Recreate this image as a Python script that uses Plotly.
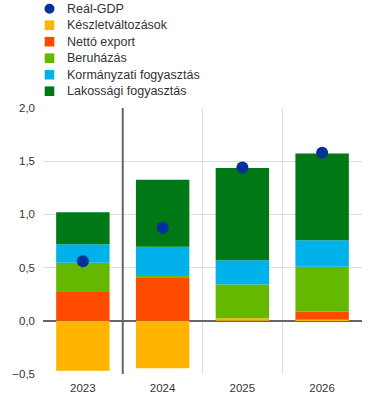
import plotly.graph_objects as go

years = ["2023", "2024", "2025", "2026"]
keszlet = [-0.47, -0.445, 0.025, 0.012]
netto_export = [0.27, 0.41, 0.0, 0.075]
beruhazas = [0.275, 0.02, 0.315, 0.42]
kormanyzati = [0.175, 0.265, 0.23, 0.25]
lakossagi = [0.30, 0.63, 0.865, 0.815]
real_gdp = [0.56, 0.875, 1.44, 1.58]

gdp_name = "Reál-GDP"
gdp_color = "#003299"
series = [
    ("Készletváltozások", keszlet, "#FFB400"),
    ("Nettó export", netto_export, "#FF4B00"),
    ("Beruházás", beruhazas, "#65B800"),
    ("Kormányzati fogyasztás", kormanyzati, "#00B1EA"),
    ("Lakossági fogyasztás", lakossagi, "#007816"),
]

W, H = 371, 399
ML, MR, MT, MB = 43, 9, 108, 25

fig = go.Figure()
for name, vals, col in series:
    fig.add_trace(go.Bar(x=years, y=vals, name=name, showlegend=False,
                         marker=dict(color=col, line=dict(width=0))))
fig.add_trace(go.Scatter(x=years, y=real_gdp, mode="markers", name=gdp_name, showlegend=False,
                         marker=dict(color=gdp_color, size=12)))

fig.add_shape(type="line", xref="x", yref="y", x0=0.5, x1=0.5, y0=-0.52, y1=2.0,
              line=dict(color="#666666", width=2), layer="above")

# manual legend (pixel -> paper coords)
pw = W - ML - MR
ph = H - MT - MB
def px(xp):
    return (xp - ML) / pw
def py(yp):
    return 1 + (MT - yp) / ph

row0, step = 8.7, 16.5
sym_cx, half = 49.5, 4.8
text_x = 65
legend_items = [(gdp_name, gdp_color, "circle")] + [(n, c, "rect") for n, _, c in series]
for i, (name, col, kind) in enumerate(legend_items):
    cy = row0 + i * step
    if kind == "circle":
        fig.add_shape(type="circle", xref="paper", yref="paper",
                      x0=px(sym_cx - 5), x1=px(sym_cx + 5), y0=py(cy + 5), y1=py(cy - 5),
                      fillcolor=col, line=dict(width=0))
    else:
        fig.add_shape(type="rect", xref="paper", yref="paper",
                      x0=px(sym_cx - half), x1=px(sym_cx + half), y0=py(cy + half), y1=py(cy - half),
                      fillcolor=col, line=dict(width=0))
    fig.add_annotation(text=name, xref="paper", yref="paper", x=px(text_x), y=py(cy),
                       xanchor="left", yanchor="middle", showarrow=False,
                       font=dict(size=12.5, color="#333333", family="Liberation Sans, Arial"))

fig.update_layout(
    width=W, height=H,
    margin=dict(l=ML, r=MR, t=MT, b=MB, autoexpand=False),
    barmode="relative", bargap=0.33,
    plot_bgcolor="white", paper_bgcolor="white",
    separators=", ",
    font=dict(family="Liberation Sans, Arial", size=11, color="#333333"),
    showlegend=False,
)
fig.update_xaxes(type="category", tickson="boundaries", showgrid=True, gridcolor="#DDDDDD",
                 gridwidth=1, ticks="", showline=False, ticklabelstandoff=5,
                 tickfont=dict(size=11.5, color="#333333"))
fig.update_yaxes(range=[-0.5, 2.0], dtick=0.5, tickformat=".1f", showgrid=True,
                 gridcolor="#DDDDDD", gridwidth=1, zeroline=True, zerolinecolor="#666666",
                 zerolinewidth=2, ticks="", ticklabelstandoff=7,
                 tickfont=dict(size=11.5, color="#333333"))

fig.write_html("out.html")
